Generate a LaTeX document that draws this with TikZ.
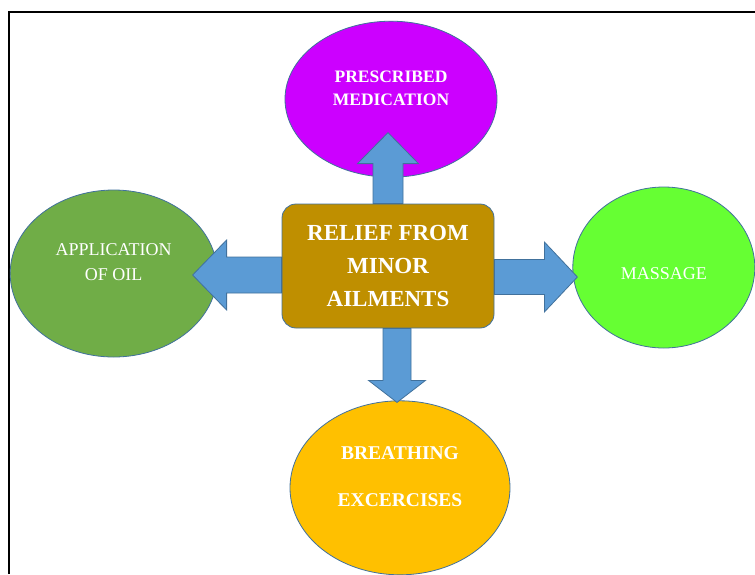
\documentclass[tikz,border=0pt]{standalone}
\usepackage{fontspec}
\setmainfont{Liberation Serif}
\usetikzlibrary{shapes.geometric, positioning, calc}
\definecolor{hubGold}{RGB}{191,143,0}
\definecolor{rxPurple}{RGB}{204,0,255}
\definecolor{oilGreen}{RGB}{112,173,71}
\definecolor{massageGreen}{RGB}{102,255,51}
\definecolor{breathAmber}{RGB}{255,192,0}
\definecolor{arrowBlue}{RGB}{91,155,213}
\definecolor{edgeBlue}{RGB}{65,113,156}

% block arrow: start, tip, head length, shaft half width, head half width
\newcommand{\blockarrow}[5]{%
  \coordinate (ab) at ($(#2)!#3!(#1)$);
  \draw[arrowbody] ($(#1)!#4!90:(#2)$) -- ($(ab)!#4!90:(#2)$) -- ($(ab)!#5!90:(#2)$)
    -- (#2) -- ($(ab)!#5!-90:(#2)$) -- ($(ab)!#4!-90:(#2)$) -- ($(#1)!#4!-90:(#2)$) -- cycle;}

\begin{document}
\begin{tikzpicture}[x=1pt, y=-1pt,
hub/.style={rectangle, rounded corners=14pt, draw=edgeBlue, line width=0.8pt,
fill=hubGold, minimum width=212pt, minimum height=124pt, align=center,
text=white, font=\fontsize{23}{33}\selectfont\bfseries},
remedy/.style={ellipse, draw=edgeBlue, line width=0.8pt, inner sep=0pt,
align=center, text=white},
arrowbody/.style={fill=arrowBlue, draw=edgeBlue, line width=0.8pt}]
\useasboundingbox (0,0) rectangle (755,574);
\draw[line width=1.6pt] (9,574) -- (9,12) -- (755,12);

\node[hub] (hub) at (388,266) {RELIEF FROM\\MINOR\\AILMENTS};
\node[remedy, fill=rxPurple, minimum width=212pt, minimum height=156pt,
    font=\fontsize{17.5}{23}\selectfont\bfseries, text depth=22pt,
    above=26pt of hub, xshift=3pt] (presc) {PRESCRIBED\\MEDICATION};
\node[remedy, fill=oilGreen, minimum width=207pt, minimum height=167pt,
    font=\fontsize{18}{25}\selectfont, text depth=22pt,
    left=64pt of hub, yshift=-7.5pt] (oil) {APPLICATION\\OF OIL};
\node[remedy, fill=massageGreen, minimum width=182pt, minimum height=161pt,
    font=\fontsize{18}{22}\selectfont, text height=24pt,
    right=78pt of hub, yshift=-1.5pt] (massage) {MASSAGE};
\node[remedy, fill=breathAmber, minimum width=220pt, minimum height=174pt,
    font=\fontsize{19.5}{47}\selectfont\bfseries, text depth=22pt,
    below=72pt of hub, xshift=12pt] (breath) {BREATHING\\EXCERCISES};

\coordinate (tipN) at ($(hub.north)+(0,-71)$);
\coordinate (tipW) at ($(hub.west)+(-89,9)$);
\coordinate (tipE) at ($(hub.east)+(83,11)$);
\coordinate (tipS) at ($(hub.south)+(9,74)$);
\blockarrow{hub.north}{tipN}{31pt}{15pt}{30.5pt}
\blockarrow{$(hub.west)+(0,9)$}{tipW}{34pt}{18pt}{35pt}
\blockarrow{$(hub.east)+(0,11)$}{tipE}{33pt}{17.5pt}{35pt}
\blockarrow{$(hub.south)+(9,0)$}{tipS}{22pt}{14pt}{28.5pt}
\end{tikzpicture}
\end{document}
